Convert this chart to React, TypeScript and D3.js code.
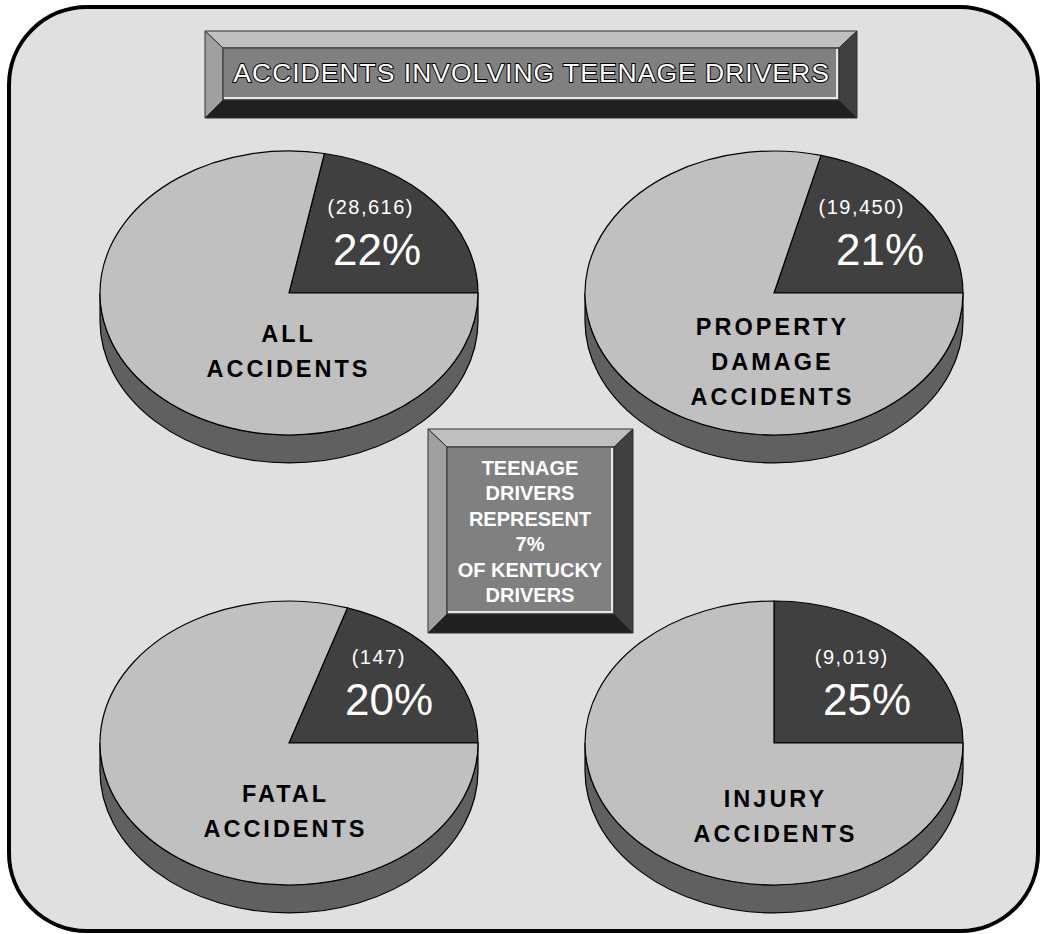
import React from "react";
import * as d3 from "d3";

// ---- data ----
const titleText = "ACCIDENTS INVOLVING TEENAGE DRIVERS";
const categories = [["ALL", "ACCIDENTS"], ["PROPERTY", "DAMAGE", "ACCIDENTS"], ["FATAL", "ACCIDENTS"], ["INJURY", "ACCIDENTS"]];
const teenCounts = ["(28,616)", "(19,450)", "(147)", "(9,019)"];
const teenPercents = [22, 21, 20, 25];
const centerLines = ["TEENAGE", "DRIVERS", "REPRESENT", "7%", "OF KENTUCKY", "DRIVERS"];

// ---- layout ----
const W = 1040, H = 934;
const centers = [[289, 293], [774, 293], [289, 743], [774, 743]];
const catDy = [49, 42, 59, 64];
const catDx = [-2, -3, -5, 0];
const pctDx = [88, 106, 100, 93];
const cntDx = [81, 87, 89, 77];
const RX = 189, RY = 142, DEPTH = 28;
const FONT = "'Liberation Sans', Arial, Helvetica, sans-serif";

function Bevel({ x, y, w, h, b }: { x: number; y: number; w: number; h: number; b: number }) {
  const x2 = x + w, y2 = y + h;
  const ix = x + b, iy = y + b - 1, ix2 = x2 - b, iy2 = y2 - b;
  const st = { stroke: "#303030", strokeWidth: 1, strokeLinejoin: "round" as const };
  return (
    <g>
      <polygon points={`${x},${y} ${x2},${y} ${ix2},${iy} ${ix},${iy}`} fill="#c0c0c0" {...st} />
      <polygon points={`${x},${y} ${ix},${iy} ${ix},${iy2} ${x},${y2}`} fill="#a0a0a0" {...st} />
      <polygon points={`${x2},${y} ${x2},${y2} ${ix2},${iy2} ${ix2},${iy}`} fill="#404040" {...st} />
      <polygon points={`${x},${y2} ${ix},${iy2} ${ix2},${iy2} ${x2},${y2}`} fill="#202020" {...st} />
      <rect x={ix} y={iy} width={ix2 - ix} height={iy2 - iy} fill="#808080" stroke="#303030" strokeWidth={1} />
      <path d={`M${ix2 - 2},${iy + 1} L${ix2 - 2},${iy2 - 2} L${ix + 1},${iy2 - 2}`} fill="none" stroke="#e8e8e8" strokeWidth={2} />
    </g>
  );
}

function Pie3D({ i }: { i: number }) {
  const [cx, cy] = centers[i];
  const p = teenPercents[i];
  const a0 = Math.PI / 2 - 2 * Math.PI * (p / 100);
  const pie = d3.pie<number>().sort(null).startAngle(a0).endAngle(a0 + 2 * Math.PI);
  const arcs = pie([p, 100 - p]);
  const arc = d3.arc<d3.PieArcDatum<number>>().innerRadius(0).outerRadius(RX);
  const side = d3.path();
  side.moveTo(cx - RX, cy);
  side.lineTo(cx - RX, cy + DEPTH);
  const bottom = `A${RX},${RY} 0 0 0 ${cx + RX},${cy + DEPTH} L${cx + RX},${cy} A${RX},${RY} 0 0 1 ${cx - RX},${cy} Z`;
  const fills = ["#404040", "#c0c0c0"];
  const lines = categories[i];
  return (
    <g>
      <path d={side.toString() + bottom} fill="#606060" stroke="#000" strokeWidth={1.2} />
      <g transform={`translate(${cx},${cy}) scale(1,${RY / RX})`}>
        {arcs.map((a, k) => (
          <path key={k} d={arc(a) || ""} fill={fills[k]} stroke="#000" strokeWidth={1.2} vectorEffect="non-scaling-stroke" />
        ))}
      </g>
      <text x={cx + cntDx[i] + 0.75} y={cy - 79} textAnchor="middle" fill="#fff"
        fontFamily={FONT} fontSize={20} letterSpacing={1.5}>{teenCounts[i]}</text>
      <text x={cx + pctDx[i]} y={cy - 28} textAnchor="middle" fill="#fff"
        fontFamily={FONT} fontSize={44}>{p}%</text>
      {lines.map((t, k) => (
        <text key={k} x={cx + catDx[i] + 1.5} y={cy + catDy[i] + k * 35} textAnchor="middle" fill="#000"
          fontFamily={FONT} fontWeight="bold" fontSize={23.5} letterSpacing={3}>{t}</text>
      ))}
    </g>
  );
}

export default function App() {
  return (
    <svg width={W} height={H} style={{ position: "absolute", left: 0, top: 0, background: "#fff" }}>
      <rect x={9} y={7} width={1029} height={924} rx={78} ry={78} fill="#e0e0e0" stroke="#000" strokeWidth={4} />
      <Bevel x={205} y={31} w={652} h={87} b={18} />
      <text x={531 + 0.6} y={82} textAnchor="middle" fill="#fff" stroke="#000" strokeWidth={2} paintOrder="stroke"
        fontFamily={FONT} fontSize={26.5} letterSpacing={1}>{titleText}</text>
      {centers.map((_, i) => <Pie3D key={i} i={i} />)}
      <Bevel x={428} y={429} w={205} h={204} b={19} />
      {centerLines.map((t, k) => (
        <text key={k} x={530} y={475 + k * 25.4} textAnchor="middle" fill="#fff" fontFamily={FONT}
          fontWeight="bold" fontSize={20}>{t}</text>
      ))}
    </svg>
  );
}
